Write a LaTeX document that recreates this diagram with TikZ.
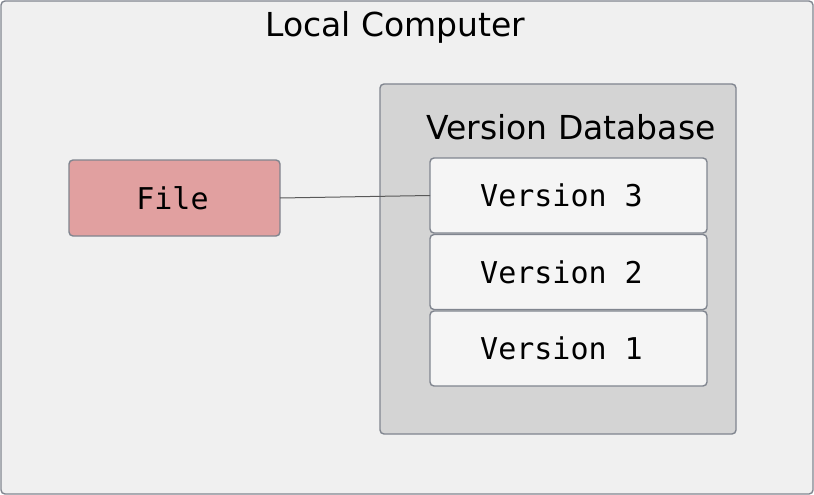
\documentclass[tikz,border=0pt]{standalone}
\usepackage{fontspec}
\setmainfont{DejaVu Sans}
\setmonofont{DejaVu Sans Mono}
\usetikzlibrary{positioning}
\definecolor{edgegray}{HTML}{80858F}
\definecolor{localbg}{HTML}{F0F0F0}
\definecolor{dbbg}{HTML}{D4D4D4}
\definecolor{verbg}{HTML}{F5F5F5}
\definecolor{filebg}{HTML}{E1A0A0}
\def\titlefont{\fontsize{33}{40}\selectfont}
\def\codefont{\ttfamily\fontsize{30}{36}\selectfont}
\tikzset{
  box/.style={draw=edgegray, line width=1.4pt, rounded corners=4pt, inner sep=0pt, outer sep=0pt},
  verbox/.style={box, fill=verbg, minimum width=277pt, minimum height=75pt, font=\codefont,
    execute at end node=\hspace*{14pt}},
}

\begin{document}
\begin{tikzpicture}[x=1pt, y=-1pt]
                \useasboundingbox (0,0) rectangle (814,495);
                \node[box, fill=localbg, minimum width=812pt, minimum height=493pt] (local) at (407,247.5) {};
                \node[anchor=base, font=\titlefont] (localtitle) at (395.5,37) {Local Computer};
                \node[box, fill=dbbg, minimum width=356pt, minimum height=350pt] (db) at (558,259) {};
                \node[anchor=base, font=\titlefont] (dbtitle) at (571,139) {Version Database};
                \node[verbox] (v3) at (568.5,195.5) {Version 3};
                \node[verbox, below=1.5pt of v3] (v2) {Version 2};
                \node[verbox, below=1.5pt of v2] (v1) {Version 1};
                \node[box, fill=filebg, minimum width=211pt, minimum height=76pt, font=\codefont,
                  execute at end node=\hspace*{4pt}] (file) at (174.5,198) {File};
                \draw[line width=1pt, draw=black!65] (file.east) -- (v3.west);
            \end{tikzpicture}
\end{document}
